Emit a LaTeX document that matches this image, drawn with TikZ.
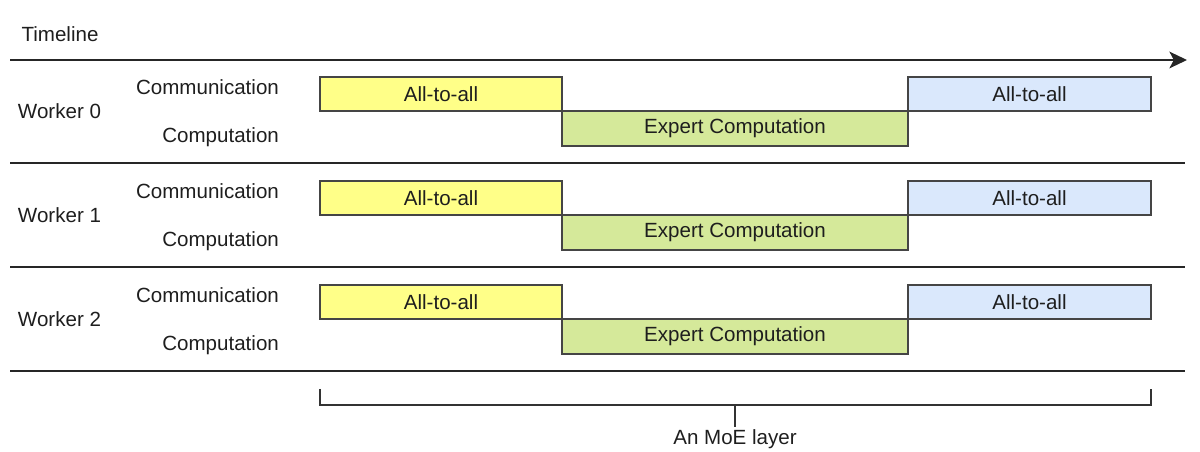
\documentclass[tikz,border=0pt]{standalone}
\usepackage{fontspec}
\setmainfont{Liberation Sans}
\usetikzlibrary{arrows.meta}

\definecolor{alltoallY}{HTML}{FFFF88}
\definecolor{alltoallB}{HTML}{DAE8FC}
\definecolor{expertG}{HTML}{D5E99A}
\definecolor{boxline}{HTML}{454545}
\definecolor{txt}{HTML}{1E1E1E}

\tikzset{
  lbl/.style={text=txt, font=\fontsize{11.7}{14}\selectfont, inner sep=1pt},
  phase/.style={draw=boxline, line width=1.1pt, minimum height=0.69cm,
    text=txt, font=\fontsize{11.7}{14}\selectfont, inner sep=0pt},
  sepline/.style={line width=1.2pt, draw=black!85}
}

\begin{document}
\begin{tikzpicture}[x=0.02cm, y=-0.02cm]
   \useasboundingbox (0,0) rectangle (1200,452);
   \node[lbl] (timeline) at (60,34) {Timeline};
   \draw[sepline, -{Stealth[length=10pt, width=9.5pt, inset=2.5pt]}] (10,60) -- (1187,60);
   \foreach \w in {0,1,2} {
    \begin{scope}[yshift=-\w*2.08cm]
     \node[lbl] (worker\w) at (59.5,111) {Worker \w};
     \node[lbl, anchor=east] (comm\w) at (281,87) {Communication};
     \node[lbl, anchor=east] (comp\w) at (281,137) {Computation};
     \node[phase, fill=alltoallY, minimum width=4.84cm] (a2a\w) at (441,94) {All-to-all};
     \node[phase, fill=expertG, minimum width=6.92cm, minimum height=0.70cm] (exp\w) at (735,128.5) {Expert Computation};
     \node[phase, fill=alltoallB, minimum width=4.86cm] (back\w) at (1029.5,94) {All-to-all};
     \draw[sepline] (10,163) -- (1185,163);
    \end{scope}
   }
   % bracket over the layer
   \node[lbl] (moe) at (735,439) {An MoE layer};
   \draw[line width=1pt, draw=black!80] (320,389) -- (320,405) -- (1151,405) -- (1151,389);
   \draw[line width=1pt, draw=black!80] (735,405) -- (moe.north);
\end{tikzpicture}
\end{document}
